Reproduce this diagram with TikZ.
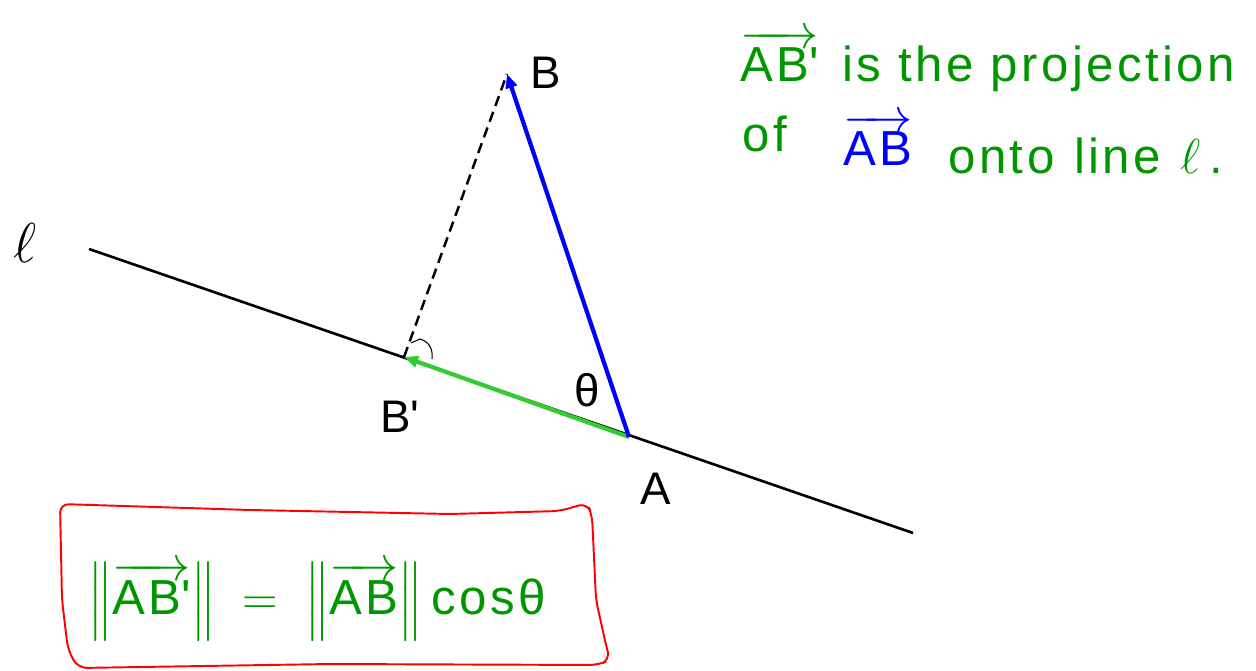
\RequirePackage{fix-cm}
\documentclass[tikz,border=0pt]{standalone}
\usepackage{amsmath}
\usepackage{fontspec}
\setmainfont{Liberation Sans}
\usetikzlibrary{arrows.meta}
\definecolor{penblue}{RGB}{0,0,255}
\definecolor{projgreen}{RGB}{51,204,51}
\definecolor{inkgreen}{RGB}{0,150,0}
\definecolor{boxred}{RGB}{255,0,0}
\newcommand{\vecarrow}[1]{\ensuremath{\overrightarrow{\text{#1}}}}
\newcommand{\primed}{\textquotesingle}

\begin{document}
\begin{tikzpicture}[x=0.02cm,y=-0.02cm,
  ptlabel/.style={font=\fontsize{26}{30}\selectfont,inner sep=0pt},
  ink/.style={text=inkgreen,font=\fontsize{28}{32}\selectfont\addfontfeature{LetterSpace=7},anchor=base west,inner sep=0pt},
  vectip/.style={-{Triangle[length=8pt,width=6.5pt]}}]
\useasboundingbox (0,0) rectangle (1256,671);
% points on the figure
\coordinate (lstart) at (89,249);
\coordinate (lend) at (913,533);
\coordinate (A) at (629,437);
\coordinate (B) at (507,74);
\coordinate (Bp) at (404,357);
% line l
\draw[line width=1.5pt] (lstart) -- (lend);
\node[font=\fontsize{32}{36}\selectfont] (lname) at (25,243) {$\ell$};
% perpendicular drop + right angle mark
\draw[line width=1.4pt,dash pattern=on 6pt off 3.5pt] (Bp) -- (B);
\draw[line width=0.6pt] (411,343) -- (420,339) .. controls (430,342) and (433,350) .. (432,359);
% vectors
\draw[projgreen,line width=2.4pt,vectip] (A) -- (Bp);
\draw[penblue,line width=2.4pt,vectip] (A) -- (B);
% point labels
\node[ptlabel] (Blab) at (546,73) {B};
\node[ptlabel] (Bplab) at (400,417) {B\primed};
\node[ptlabel] (Alab) at (656,489) {A};
\node[ptlabel] (thlab) at (587,390) {θ};
% handwritten note
\node[ink] (hwab) at (740,82) {\vecarrow{AB\primed}};
\node[ink] (hwproj) at (842,82) {is the projection};
\node[ink] (hwof) at (742,152) {of};
\node[ink,text=penblue] (hwabb) at (843,166) {\vecarrow{AB}};
\node[ink] (hwonto) at (948,174) {onto\hspace{0.4em}line\hspace{0.4em}$\ell$\,.};
% boxed formula
\draw[boxred,line width=1.1pt,rounded corners=5pt]
  (60,504) -- (250,510) -- (450,514) -- (560,511) -- (587,503) -- (592,515)
  -- (596,600) -- (606,645) -- (610,660) -- (598,665) -- (330,664) -- (78,668)
  -- (68,650) -- (62,600) -- cycle;
\node[ink] (formula) at (88,614)
  {$\bigl\|\vecarrow{AB\primed}\bigr\| \;=\; \bigl\|\vecarrow{AB}\bigr\|\,\text{cosθ}$};
\end{tikzpicture}
\end{document}
